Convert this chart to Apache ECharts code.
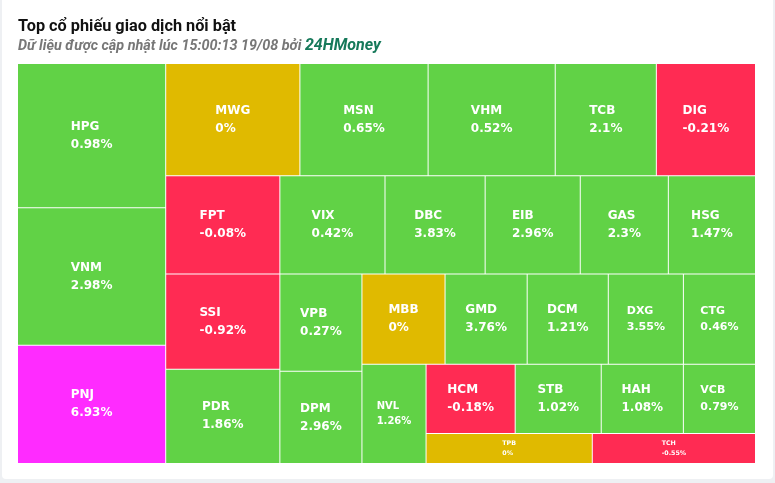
<!DOCTYPE html>
<html>
<head>
<meta charset="utf-8">
<script src="https://cdn.jsdelivr.net/npm/echarts@6/dist/echarts.min.js"></script>
<style>
html, body { margin: 0; padding: 0; width: 775px; height: 483px; overflow: hidden; background: #eef0f3; }
#card { position: absolute; left: 2px; top: 0; width: 771px; height: 479px; background: #ffffff; border-radius: 0 0 4px 4px; }
#chart { position: absolute; left: 0; top: 0; width: 775px; height: 483px; }
</style>
</head>
<body>
<div id="card"></div>
<div id="chart"></div>
<script>
// ---- data ----
const tickers = ['HPG','VNM','PNJ','MWG','MSN','VHM','TCB','DIG','FPT','SSI','PDR','VIX','DBC','EIB','GAS','HSG',
                 'VPB','DPM','MBB','GMD','DCM','DXG','CTG','NVL','HCM','STB','HAH','VCB','TPB','TCH'];
// relative traded value (cell area)
const tradeValues = [2131,2028,1746,1501,1434,1422,1131,1109,1117,1083,1072,1029,980,931,862,853,
                     795,754,747,738,729,675,648,634,614,593,566,497,498,489];
// price change, %
const changes = [0.98,2.98,6.93,0,0.65,0.52,2.1,-0.21,-0.08,-0.92,1.86,0.42,3.83,2.96,2.3,1.47,
                 0.27,2.96,0,3.76,1.21,3.55,0.46,1.26,-0.18,1.02,1.08,0.79,0,-0.55];

const titleText = 'Top cổ phiếu giao dịch nổi bật';
const subText = 'Dữ liệu được cập nhật lúc 15:00:13 19/08 bởi ';
const brandText = '24HMoney';

// grouping of the tiles (S: each member gets its own strip, B: members share one strip)
const layoutPlan =
  ['S', ['S', 'HPG', 'VNM', 'PNJ'],
        ['B', ['S', 'MWG', 'MSN', 'VHM', 'TCB', 'DIG'],
              ['S', ['S', 'FPT', 'SSI', 'PDR'],
                    ['B', ['S', 'VIX', 'DBC', 'EIB', 'GAS', 'HSG'],
                          ['S', ['S', 'VPB', 'DPM'],
                                ['B', ['S', 'MBB', 'GMD', 'DCM', 'DXG', 'CTG'],
                                      ['S', 'NVL',
                                            ['B', ['S', 'HCM', 'STB', 'HAH', 'VCB'],
                                                  ['S', 'TPB', 'TCH']]]]]]]]];

// ---- styles ----
const UP = '#61d246', DOWN = '#ff2b53', REF = '#e0ba00', CEIL = '#ff2bff';
const labelFont = 'DejaVu Sans';
const smallLabel = { NVL: 10, VCB: 11, CTG: 11, DXG: 11, TPB: 6.3, TCH: 6.3 };

function colorOf(ch) {
  if (ch >= 6.9) return CEIL;
  if (ch > 0) return UP;
  if (ch < 0) return DOWN;
  return REF;
}
const mctx = document.createElement('canvas').getContext('2d');
function textWidth(s, size) {
  mctx.font = 'bold ' + size + 'px "' + labelFont + '"';
  return mctx.measureText(s).width;
}
function pctText(ch) { return ch + '%'; }

function leaf(tk) {
  const i = tickers.indexOf(tk);
  const ch = changes[i];
  const fs = smallLabel[tk] || 12;
  const w = Math.max(textWidth(tk, fs), textWidth(pctText(ch), fs));
  return {
    name: tk,
    value: tradeValues[i],
    itemStyle: { color: colorOf(ch) },
    label: { fontSize: fs, lineHeight: fs * 1.5, offset: [-w / 2, 0] }
  };
}
function spacer() {
  return { name: '', value: 1e-7, itemStyle: { color: '#ffffff' }, label: { show: false } };
}
function build(plan) {
  if (typeof plan === 'string') return leaf(plan);
  const mode = plan[0];
  const kids = plan.slice(1).map(build);
  const children = [];
  kids.forEach(function (k, i) {
    if (i > 0 && mode === 'S') children.push(spacer());
    children.push(k);
  });
  return { name: '', children: children, label: { show: false } };
}
const treeData = build(layoutPlan).children;

const chart = echarts.init(document.getElementById('chart'), null, { renderer: 'canvas' });
chart.setOption({
  animation: false,
  title: [
    {
      text: titleText, left: 18, top: 17, padding: 0,
      textStyle: { fontFamily: 'Roboto', fontWeight: 'bold', fontSize: 16.3, lineHeight: 20, color: '#111111' }
    },
    {
      text: '{a|' + subText + '}{b|' + brandText + '}', left: 18, top: 37, padding: 0,
      textStyle: {
        rich: {
          a: { fontFamily: 'Roboto', fontStyle: 'italic', fontSize: 14.4, lineHeight: 18, color: '#777777' },
          b: { fontFamily: 'Roboto', fontStyle: 'italic', fontWeight: 'bold', fontSize: 16, lineHeight: 18, color: '#16795a' }
        }
      }
    }
  ],
  series: [{
    type: 'treemap',
    left: 18, top: 64, width: 737, height: 399,
    roam: false,
    nodeClick: false,
    sort: false,
    squareRatio: 6,
    breadcrumb: { show: false },
    itemStyle: { borderWidth: 0, gapWidth: 1, borderColor: '#ffffff' },
    upperLabel: { show: false },
    label: {
      show: true,
      position: 'inside',
      align: 'left',
      verticalAlign: 'middle',
      padding: 0,
      color: '#ffffff',
      fontFamily: labelFont,
      fontWeight: 'bold',
      fontSize: 12,
      lineHeight: 18,
      formatter: function (p) {
        const i = tickers.indexOf(p.name);
        if (i < 0) return '';
        return p.name + '\n' + pctText(changes[i]);
      }
    },
    data: treeData
  }]
});
</script>
</body>
</html>
